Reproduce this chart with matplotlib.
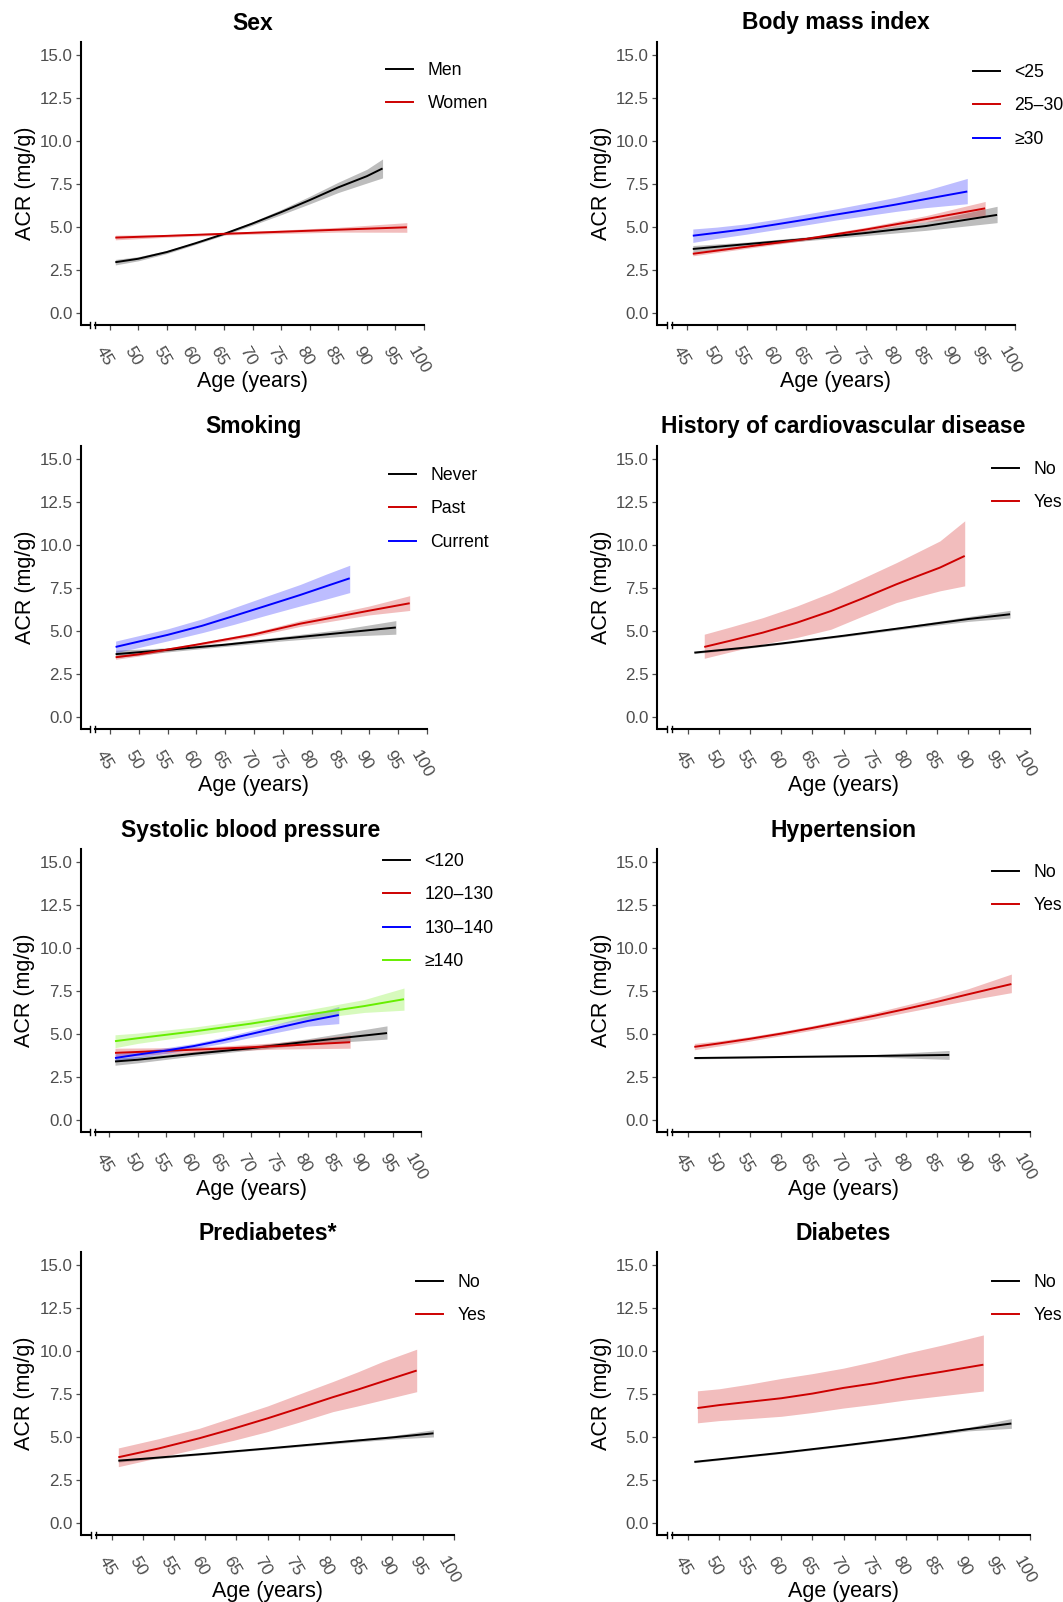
import matplotlib
matplotlib.use('Agg')
import matplotlib.pyplot as plt
from matplotlib.lines import Line2D
from matplotlib.transforms import ScaledTranslation

plt.rcParams['font.family'] = ['Liberation Sans', 'DejaVu Sans']

# ---------------- data ----------------
# Sex
sex_men_age = [46, 50, 55, 60, 65, 70, 75, 80, 85, 90, 92.75]
sex_men = [2.95, 3.15, 3.54, 4.05, 4.59, 5.2, 5.86, 6.56, 7.3, 7.95, 8.4]
sex_men_lo = [2.79, 3.03, 3.45, 3.98, 4.52, 5.1, 5.71, 6.34, 7.0, 7.55, 7.85]
sex_men_hi = [3.11, 3.27, 3.63, 4.12, 4.66, 5.3, 6.01, 6.78, 7.6, 8.35, 8.95]
sex_women_age = [46, 55, 65, 75, 85, 97]
sex_women = [4.38, 4.48, 4.6, 4.72, 4.84, 4.98]
sex_women_lo = [4.25, 4.4, 4.53, 4.62, 4.7, 4.69]
sex_women_hi = [4.52, 4.56, 4.67, 4.82, 4.98, 5.25]

# Body mass index
bmi_lt25_age = [46, 55, 65, 75, 85, 97]
bmi_lt25 = [3.72, 4.0, 4.3, 4.65, 5.05, 5.7]
bmi_lt25_lo = [3.55, 3.88, 4.2, 4.5, 4.8, 5.25]
bmi_lt25_hi = [3.92, 4.12, 4.42, 4.8, 5.3, 6.2]
bmi_25_30_age = [46, 55, 65, 75, 85, 95]
bmi_25_30 = [3.44, 3.85, 4.3, 4.85, 5.45, 6.08]
bmi_25_30_lo = [3.32, 3.75, 4.22, 4.75, 5.3, 5.65]
bmi_25_30_hi = [3.56, 3.95, 4.4, 4.98, 5.65, 6.48]
bmi_ge30_age = [46, 50, 55, 60, 65, 70, 75, 80, 85, 92]
bmi_ge30 = [4.49, 4.66, 4.88, 5.15, 5.43, 5.72, 6.0, 6.3, 6.62, 7.06]
bmi_ge30_lo = [4.1, 4.33, 4.58, 4.85, 5.12, 5.4, 5.65, 5.9, 6.12, 6.35]
bmi_ge30_hi = [4.88, 4.99, 5.18, 5.45, 5.75, 6.05, 6.38, 6.72, 7.12, 7.82]

# Smoking
smk_never_age = [46, 55, 65, 75, 85, 94.6]
smk_never = [3.65, 3.9, 4.2, 4.55, 4.88, 5.2]
smk_never_lo = [3.45, 3.78, 4.1, 4.42, 4.68, 4.81]
smk_never_hi = [3.88, 4.02, 4.3, 4.68, 5.08, 5.6]
smk_past_age = [46, 50, 60, 70, 78, 84, 90, 97]
smk_past = [3.47, 3.64, 4.2, 4.8, 5.42, 5.8, 6.18, 6.61]
smk_past_lo = [3.35, 3.54, 4.12, 4.69, 5.26, 5.6, 5.93, 6.19]
smk_past_hi = [3.59, 3.74, 4.28, 4.92, 5.6, 6.02, 6.45, 7.05]
smk_curr_age = [46, 55, 61, 66.5, 72, 78, 82.5, 86.6]
smk_curr = [4.07, 4.77, 5.3, 5.87, 6.45, 7.09, 7.6, 8.06]
smk_curr_lo = [3.73, 4.42, 4.9, 5.38, 5.9, 6.45, 6.85, 7.23]
smk_curr_hi = [4.41, 5.12, 5.7, 6.35, 7.0, 7.7, 8.3, 8.82]

# History of cardiovascular disease
cvd_no_age = [46, 50, 55, 60, 70, 80, 90, 96.8]
cvd_no = [3.74, 3.88, 4.06, 4.27, 4.72, 5.2, 5.69, 5.97]
cvd_no_lo = [3.68, 3.83, 4.01, 4.22, 4.66, 5.12, 5.55, 5.75]
cvd_no_hi = [3.8, 3.93, 4.11, 4.32, 4.78, 5.28, 5.83, 6.2]
cvd_yes_age = [47.6, 52, 57, 62.5, 68, 73, 78.5, 82, 85.5, 89.5]
cvd_yes = [4.07, 4.45, 4.9, 5.48, 6.16, 6.88, 7.71, 8.2, 8.68, 9.36]
cvd_yes_lo = [3.41, 3.8, 4.23, 4.62, 5.1, 5.85, 6.65, 7.0, 7.33, 7.62]
cvd_yes_hi = [4.81, 5.25, 5.77, 6.45, 7.23, 8.05, 8.97, 9.6, 10.23, 11.4]

# Systolic blood pressure
sbp_lt120_age = [46, 50, 60, 70, 80, 94]
sbp_lt120 = [3.4, 3.5, 3.85, 4.17, 4.55, 5.05]
sbp_lt120_lo = [3.18, 3.32, 3.72, 4.06, 4.4, 4.7]
sbp_lt120_hi = [3.6, 3.68, 3.98, 4.3, 4.72, 5.47]
sbp_120_130_age = [46, 55, 65, 75, 87.5]
sbp_120_130 = [3.9, 4.02, 4.15, 4.3, 4.52]
sbp_120_130_lo = [3.65, 3.85, 4.02, 4.12, 4.17]
sbp_120_130_hi = [4.17, 4.2, 4.3, 4.5, 4.95]
sbp_130_140_age = [46, 50, 55, 60, 65, 70, 75, 80, 85.5]
sbp_130_140 = [3.6, 3.8, 4.03, 4.3, 4.63, 5.0, 5.38, 5.75, 6.1]
sbp_130_140_lo = [3.4, 3.62, 3.87, 4.15, 4.45, 4.8, 5.12, 5.45, 5.6]
sbp_130_140_hi = [3.85, 3.98, 4.2, 4.45, 4.8, 5.2, 5.62, 6.05, 6.6]
sbp_ge140_age = [46, 50, 60, 70, 80, 90, 97]
sbp_ge140 = [4.58, 4.75, 5.15, 5.6, 6.12, 6.62, 7.02]
sbp_ge140_lo = [4.2, 4.45, 4.92, 5.38, 5.85, 6.25, 6.38]
sbp_ge140_hi = [4.95, 5.05, 5.4, 5.85, 6.4, 7.0, 7.67]

# Hypertension
htn_no_age = [46, 60, 75, 87]
htn_no = [3.6, 3.66, 3.72, 3.78]
htn_no_lo = [3.55, 3.62, 3.66, 3.52]
htn_no_hi = [3.66, 3.7, 3.8, 4.04]
htn_yes_age = [46, 50, 55, 60, 65, 70, 75, 80, 85, 90, 97]
htn_yes = [4.25, 4.45, 4.72, 5.02, 5.35, 5.7, 6.06, 6.45, 6.86, 7.3, 7.9]
htn_yes_lo = [4.08, 4.3, 4.59, 4.9, 5.22, 5.55, 5.88, 6.25, 6.6, 6.95, 7.4]
htn_yes_hi = [4.45, 4.6, 4.85, 5.15, 5.48, 5.85, 6.24, 6.68, 7.12, 7.62, 8.48]

# Prediabetes
pre_no_age = [46, 50, 60, 70, 80, 90, 96.7]
pre_no = [3.62, 3.73, 4.02, 4.33, 4.65, 4.97, 5.21]
pre_no_lo = [3.54, 3.67, 3.97, 4.28, 4.58, 4.87, 5.0]
pre_no_hi = [3.7, 3.79, 4.07, 4.38, 4.72, 5.07, 5.42]
pre_yes_age = [46, 52.5, 59, 64.5, 70, 75, 80.5, 84.5, 88.5, 94]
pre_yes = [3.82, 4.33, 4.92, 5.48, 6.08, 6.66, 7.31, 7.75, 8.22, 8.86]
pre_yes_lo = [3.27, 3.8, 4.34, 4.8, 5.31, 5.85, 6.47, 6.8, 7.15, 7.63]
pre_yes_hi = [4.36, 4.9, 5.5, 6.15, 6.8, 7.48, 8.22, 8.78, 9.38, 10.1]

# Diabetes
dm_no_age = [46, 50, 60, 70, 80, 90, 97]
dm_no = [3.55, 3.7, 4.08, 4.5, 4.95, 5.45, 5.78]
dm_no_lo = [3.5, 3.65, 4.03, 4.45, 4.88, 5.35, 5.5]
dm_no_hi = [3.6, 3.75, 4.13, 4.56, 5.02, 5.55, 6.07]
dm_yes_age = [46.5, 50, 55, 60, 65, 70, 75, 80, 86, 92.5]
dm_yes = [6.68, 6.85, 7.05, 7.25, 7.52, 7.85, 8.12, 8.45, 8.8, 9.2]
dm_yes_lo = [5.82, 5.95, 6.07, 6.2, 6.42, 6.68, 6.9, 7.15, 7.4, 7.67]
dm_yes_hi = [7.68, 7.8, 8.08, 8.4, 8.68, 9.0, 9.4, 9.86, 10.35, 10.93]

x_ticks = [45, 50, 55, 60, 65, 70, 75, 80, 85, 90, 95, 100]
y_ticks = [0.0, 2.5, 5.0, 7.5, 10.0, 12.5, 15.0]

# ---------------- styling ----------------
BLACK = '#000000'
RED = '#CD0000'
BLUE = '#0000FF'
GREEN = '#66EE00'
GRAY_TXT = '#4D4D4D'

W, H = 1063, 1602
fig = plt.figure(figsize=(W / 100, H / 100), dpi=100)

panels = [
    dict(title='Sex', box=(81, 424, 42, 325), leg=(386, 69),
         series=[('Men', BLACK, sex_men_age, sex_men, sex_men_lo, sex_men_hi),
                 ('Women', RED, sex_women_age, sex_women, sex_women_lo, sex_women_hi)]),
    dict(title='Body mass index', box=(657, 1015, 42, 325), leg=(973, 71),
         series=[('<25', BLACK, bmi_lt25_age, bmi_lt25, bmi_lt25_lo, bmi_lt25_hi),
                 ('25\u201330', RED, bmi_25_30_age, bmi_25_30, bmi_25_30_lo, bmi_25_30_hi),
                 ('\u226530', BLUE, bmi_ge30_age, bmi_ge30, bmi_ge30_lo, bmi_ge30_hi)]),
    dict(title='Smoking', box=(81, 427, 446, 729), leg=(389, 474),
         series=[('Never', BLACK, smk_never_age, smk_never, smk_never_lo, smk_never_hi),
                 ('Past', RED, smk_past_age, smk_past, smk_past_lo, smk_past_hi),
                 ('Current', BLUE, smk_curr_age, smk_curr, smk_curr_lo, smk_curr_hi)]),
    dict(title='History of cardiovascular disease', box=(657, 1030, 446, 729), leg=(992, 468),
         series=[('No', BLACK, cvd_no_age, cvd_no, cvd_no_lo, cvd_no_hi),
                 ('Yes', RED, cvd_yes_age, cvd_yes, cvd_yes_lo, cvd_yes_hi)]),
    dict(title='Systolic blood pressure', box=(81, 421, 849, 1132), leg=(383, 860),
         series=[('<120', BLACK, sbp_lt120_age, sbp_lt120, sbp_lt120_lo, sbp_lt120_hi),
                 ('120\u2013130', RED, sbp_120_130_age, sbp_120_130, sbp_120_130_lo, sbp_120_130_hi),
                 ('130\u2013140', BLUE, sbp_130_140_age, sbp_130_140, sbp_130_140_lo, sbp_130_140_hi),
                 ('\u2265140', GREEN, sbp_ge140_age, sbp_ge140, sbp_ge140_lo, sbp_ge140_hi)]),
    dict(title='Hypertension', box=(657, 1030, 849, 1132), leg=(992, 871),
         series=[('No', BLACK, htn_no_age, htn_no, htn_no_lo, htn_no_hi),
                 ('Yes', RED, htn_yes_age, htn_yes, htn_yes_lo, htn_yes_hi)]),
    dict(title='Prediabetes*', box=(81, 454, 1252, 1535), leg=(416, 1281),
         series=[('No', BLACK, pre_no_age, pre_no, pre_no_lo, pre_no_hi),
                 ('Yes', RED, pre_yes_age, pre_yes, pre_yes_lo, pre_yes_hi)]),
    dict(title='Diabetes', box=(657, 1030, 1252, 1535), leg=(992, 1281),
         series=[('No', BLACK, dm_no_age, dm_no, dm_no_lo, dm_no_hi),
                 ('Yes', RED, dm_yes_age, dm_yes, dm_yes_lo, dm_yes_hi)]),
]

XMIN, XMAX = 40, 100
YMIN, YMAX = -0.7, 15.75
BREAK_A, BREAK_B = 41.6, 42.45

for p in panels:
    xl, xr, yt, yb = p['box']
    wpx, hpx = xr - xl, yb - yt
    ax = fig.add_axes([xl / W, (H - yb) / H, wpx / W, hpx / H])
    ax.set_xlim(XMIN, XMAX)
    ax.set_ylim(YMIN, YMAX)

    for label, col, age, val, lo, hi in p['series']:
        ax.fill_between(age, lo, hi, color=col, alpha=0.26, linewidth=0)
    handles = []
    for label, col, age, val, lo, hi in p['series']:
        ax.plot(age, val, color=col, lw=1.4, solid_capstyle='butt', solid_joinstyle='round')
        handles.append(Line2D([], [], color=col, lw=1.4))

    for s in ['top', 'right']:
        ax.spines[s].set_visible(False)
    ax.spines['left'].set_linewidth(1.5)
    ax.spines['bottom'].set_linewidth(1.5)
    ax.spines['bottom'].set_bounds(BREAK_B, XMAX)
    xt = ax.get_xaxis_transform()
    ax.plot([XMIN, BREAK_A], [0, 0], color='black', lw=1.5, transform=xt, clip_on=False,
            solid_capstyle='butt')
    for bx in (BREAK_A, BREAK_B):
        ax.plot([bx, bx], [-0.012, 0.012], color='black', lw=1.0, transform=xt, clip_on=False)

    ax.set_xticks(x_ticks)
    ax.set_yticks(y_ticks)
    ax.set_yticklabels([f'{v:.1f}' for v in y_ticks])
    ax.tick_params(axis='both', colors=GRAY_TXT, length=3.5, width=0.9, direction='out')
    ax.tick_params(axis='y', pad=2.5, labelsize=12.2)
    ax.tick_params(axis='x', pad=10, labelsize=12.5)
    off = ScaledTranslation(-5 / 100, 0, fig.dpi_scale_trans)
    for t in ax.get_xticklabels():
        t.set_rotation(-60)
        t.set_ha('center')
        t.set_va('top')
        t.set_transform(t.get_transform() + off)

    ax.set_xlabel('Age (years)', fontsize=15.5, color='black', va='center')
    ax.xaxis.set_label_coords(0.5, -57 / hpx)
    ax.set_ylabel('ACR (mg/g)', fontsize=15.5, color='black', va='center')
    ax.yaxis.set_label_coords(-56 / wpx, 0.5)
    ax.set_title(p['title'], fontsize=16.5, fontweight='bold', pad=9)

    lx, ly = p['leg']
    ax.legend(handles, [s[0] for s in p['series']], loc='upper left',
              bbox_to_anchor=(lx / W, (H - (ly - 7)) / H), bbox_transform=fig.transFigure,
              frameon=False, borderpad=0, borderaxespad=0, handlelength=1.55,
              handletextpad=0.8, labelspacing=0.93, fontsize=12.7)

fig.savefig('out.png', dpi=100, facecolor='white')
